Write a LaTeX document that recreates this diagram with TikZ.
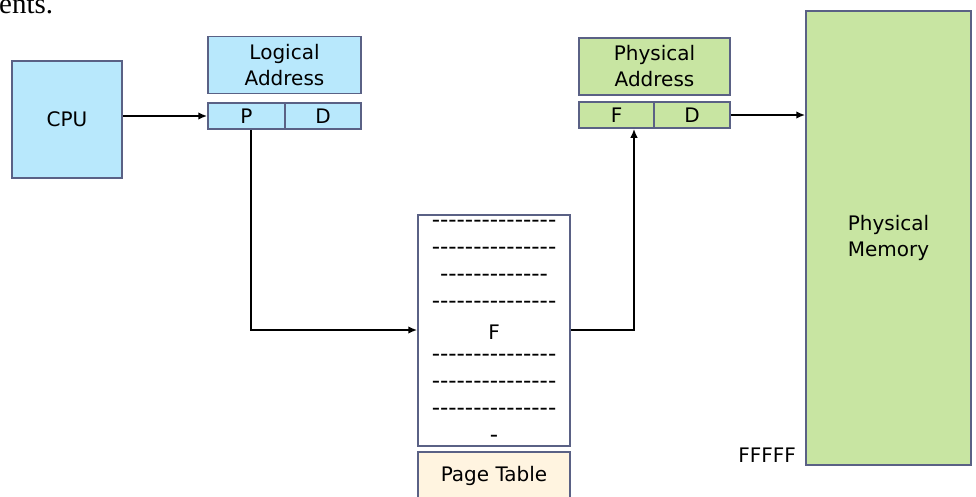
\documentclass[tikz,border=0pt]{standalone}
\usepackage{fontspec}
\setmainfont{DejaVu Sans}
\newfontfamily\bodyserif{Liberation Serif}
\usetikzlibrary{arrows.meta,positioning}

\definecolor{addrblue}{HTML}{B8E8FC}
\definecolor{framegreen}{HTML}{C8E5A2}
\definecolor{tablecream}{HTML}{FFF4E0}
\definecolor{edgeslate}{HTML}{5A6185}

% a row of separate hyphens (kern keeps them from becoming dashes)
\newcommand\dashrow[1]{\foreach \k in {1,...,#1}{-\kern0pt}}

\begin{document}
\begin{tikzpicture}[x=1pt, y=-1pt,
    box/.style={draw=edgeslate, line width=1.5pt, inner sep=0pt, align=center, font=\fontsize{20}{26}\selectfont},
    logic/.style={box, fill=addrblue},
    phys/.style={box, fill=framegreen},
    cell/.style={minimum height=26pt},
    entry/.style={inner sep=0pt, font=\fontsize{23}{23}\selectfont},
    link/.style={-{Latex[length=9pt,width=7.5pt]}, line width=1.8pt}
]
    \useasboundingbox (0,0) rectangle (976,496);

    \node[anchor=base west, inner sep=0pt, font=\bodyserif\fontsize{29}{29}\selectfont] (frag) at (-1,13) {ents.};

    % logical side
    \node[logic, minimum width=110pt, minimum height=117pt] (cpu) at (67,119.5) {CPU};
    \node[logic, minimum width=153pt, minimum height=57pt] (laddr) at (284.5,65) {Logical\\Address};
    \node[logic, cell, minimum width=77pt] (lp) at (246.5,116) {P};
    \node[logic, cell, minimum width=76pt] (ld) at (323,116) {D};

    % physical side
    \node[phys, minimum width=151pt, minimum height=57pt] (paddr) at (654.5,66.5) {Physical\\Address};
    \node[phys, cell, minimum width=75pt] (pf) at (616.5,115) {F};
    \node[phys, cell, minimum width=76pt] (pd) at (692,115) {D};
    \node[phys, minimum width=165pt, minimum height=454pt] (mem) at (888.5,238) {Physical\\Memory};
    \node[anchor=base east, inner sep=0pt, font=\fontsize{20}{20}\selectfont] (top) at (796,462) {FFFFF};

    % page table
    \node[box, fill=white, minimum width=152pt, minimum height=231pt] (ptab) at (494,330.5) {};
    \node[box, fill=tablecream, minimum width=152pt, minimum height=48pt] (plabel) at (494,476) {Page Table};
    \node[entry] (r1) at (494,224) {\dashrow{15}};
    \node[entry] (r2) at (494,251) {\dashrow{15}};
    \node[entry] (r3) at (494,278) {\dashrow{13}};
    \node[entry] (r4) at (494,305) {\dashrow{15}};
    \node[box, draw=none] (fent) at (494,332) {F};
    \node[entry] (r5) at (494,358) {\dashrow{15}};
    \node[entry] (r6) at (494,385) {\dashrow{15}};
    \node[entry] (r7) at (494,412) {\dashrow{15}};
    \node[entry] (r8) at (494,439) {\dashrow{1}};

    \coordinate (bend) at (634,330);

    \draw[link] (cpu.east |- lp.west) -- (lp.west);
    \draw[link] ([xshift=4.5pt]lp.south) |- (ptab.west |- bend);
    \draw[link] (ptab.east |- bend) -- (bend) -- (bend |- pf.south);
    \draw[link] (pd.east) -- (mem.west |- pd.east);
\end{tikzpicture}
\end{document}
